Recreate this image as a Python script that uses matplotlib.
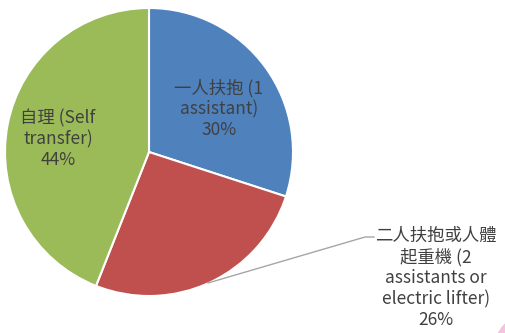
import matplotlib.pyplot as plt
from matplotlib.patches import Circle

plt.rcParams['font.family'] = ['Noto Sans CJK TC', 'DejaVu Sans']

labels = ["一人扶抱 (1\nassistant)", "二人扶抱或人體\n起重機 (2\nassistants or\nelectric lifter)", "自理 (Self\ntransfer)"]
shares = [30, 26, 44]
colors = ["#4F81BD", "#C0504D", "#9BBB59"]

W, H = 505, 333
fig = plt.figure(figsize=(W / 100, H / 100), dpi=100)
ax = fig.add_axes([0, 0, 1, 1])

cx, cy, r = 149, H - 152, 144
ax.pie(shares, colors=colors, startangle=90, counterclock=False,
       center=(cx, cy), radius=r, frame=True,
       wedgeprops=dict(edgecolor="white", linewidth=1.5))
ax.set_xlim(0, W)
ax.set_ylim(0, H)
ax.set_aspect("equal")
ax.axis("off")

txt = dict(color="#404040", fontsize=12.5, ha="center", va="center", linespacing=1.2)
pos = [(219, H - 109), (436, H - 278), (58, H - 139)]
for lab, s, (x, y) in zip(labels, shares, pos):
    ax.text(x, y, f"{lab}\n{s}%", **txt)

# leader line for the red slice
ax.plot([208, 365, 374], [H - 283, H - 237, H - 237], color="#A6A6A6", lw=1)

# pink corner decoration
ax.add_patch(Circle((528, H - 348), 33, color="#F5C3DD", clip_on=False, zorder=0))

fig.savefig("out.png", dpi=100)
